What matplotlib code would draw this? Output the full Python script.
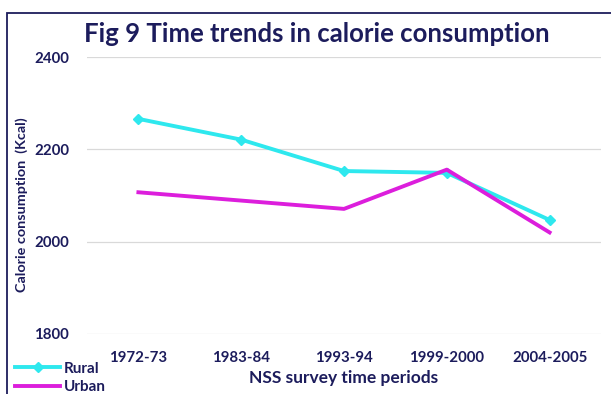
import matplotlib.pyplot as plt
from matplotlib.patches import Rectangle

periods = ['1972-73', '1983-84', '1993-94', '1999-2000', '2004-2005']
rural = [2266, 2221, 2153, 2149, 2047]
urban = [2107, 2089, 2071, 2156, 2020]

navy = '#1c1c5c'
cyan = '#2ee8ee'
magenta = '#dc1edc'

plt.rcParams['font.family'] = ['Lato', 'DejaVu Sans']

fig = plt.figure(figsize=(6.11, 3.94), dpi=100)
ax = fig.add_axes([0.1424, 0.1523, 0.8412, 0.703])

x = range(len(periods))
ax.plot(x, rural, color=cyan, lw=2.8, marker='D', ms=5, label='Rural')
ax.plot(x, urban, color=magenta, lw=2.8, label='Urban')

ax.set_xlim(-0.5, len(periods) - 0.5)
ax.set_ylim(1800, 2400)
ax.set_yticks([1800, 2000, 2200, 2400])
ax.set_xticks(list(x))
ax.set_xticklabels(periods)
ax.grid(axis='y', color='#d9d9d9', lw=0.9)
ax.set_axisbelow(True)
for s in ax.spines.values():
    s.set_visible(False)
ax.tick_params(length=0, colors=navy, labelsize=10.8)
ax.tick_params(axis='y', pad=13)
ax.tick_params(axis='x', pad=12)
for t in ax.get_xticklabels() + ax.get_yticklabels():
    t.set_fontweight('bold')

ax.set_xlabel('NSS survey time periods', color=navy, fontsize=12.5,
              fontweight='bold', labelpad=4)
fig.text(0.036, 0.48, 'Calorie consumption  (Kcal)', rotation=90, color=navy,
         fontsize=10.4, fontweight='bold', ha='center', va='center')
fig.text(0.519, 0.914, 'Fig 9 Time trends in calorie consumption', color=navy,
         fontsize=18.5, fontweight='bold', ha='center', va='center')

# chart frame, running off the right and bottom edges
fig.patches.append(Rectangle((7 / 611, -0.2), 1.2, 1.2 - 13 / 394,
                             transform=fig.transFigure, fill=False,
                             edgecolor=navy, lw=1.3))

leg = fig.legend(loc='upper left', bbox_to_anchor=(0.024, 0.082),
                 frameon=False, fontsize=11, handlelength=3.0,
                 handletextpad=0.2, labelspacing=0.3, borderaxespad=0,
                 borderpad=0)
for t in leg.get_texts():
    t.set_color(navy)
    t.set_fontweight('bold')

fig.savefig('out.png', dpi=100)
